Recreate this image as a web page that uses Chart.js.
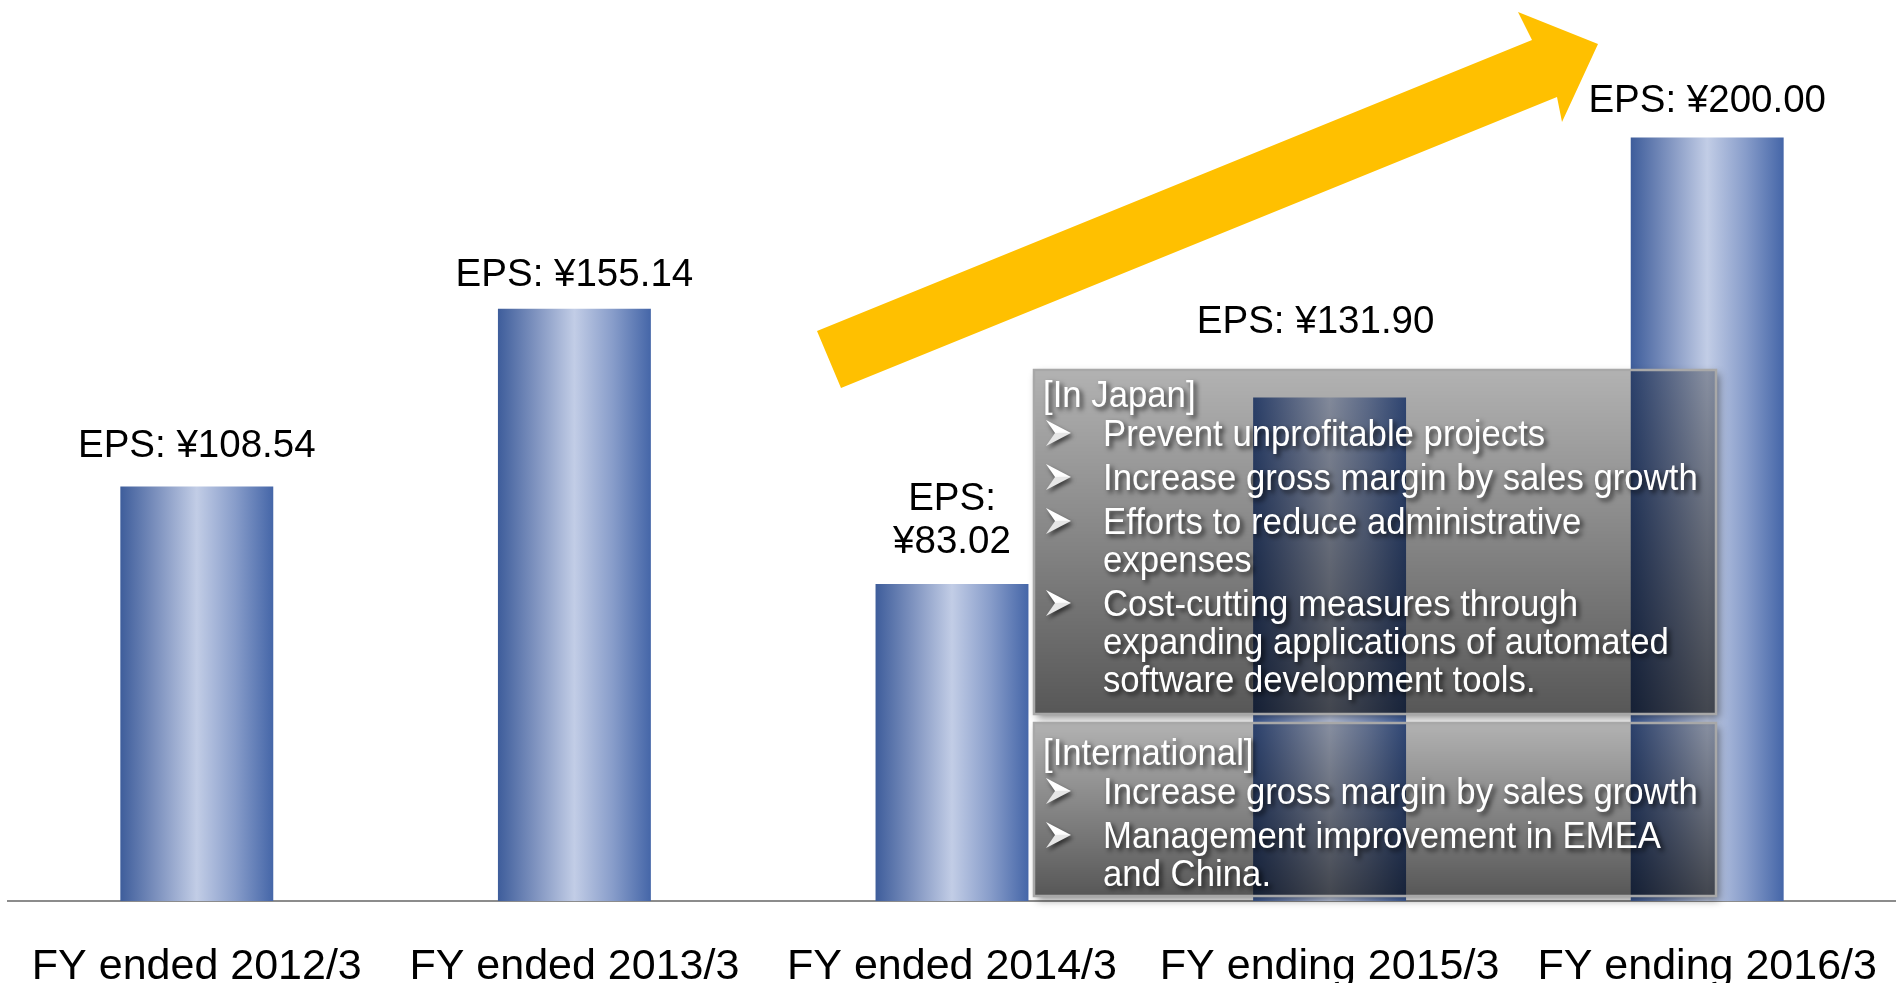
<!DOCTYPE html>
<html>
<head>
<meta charset="utf-8">
<script src="https://cdn.jsdelivr.net/npm/chart.js@4"></script>
<style>
  html, body { margin: 0; padding: 0; background: #fff; overflow: hidden; }
  canvas { display: block; }
</style>
</head>
<body>
<canvas id="epsChart" width="1896" height="983"></canvas>
<script>
const fiscalYears = ["FY ended 2012/3", "FY ended 2013/3", "FY ended 2014/3", "FY ending 2015/3", "FY ending 2016/3"];
const epsValues = [108.54, 155.14, 83.02, 131.90, 200.00];

const japanTitle = "[In Japan]";
const japanPoints = [
  ["Prevent unprofitable projects"],
  ["Increase gross margin by sales growth"],
  ["Efforts to reduce administrative", "expenses"],
  ["Cost-cutting measures through", "expanding applications of automated", "software development tools."]
];
const intlTitle = "[International]";
const intlPoints = [
  ["Increase gross margin by sales growth"],
  ["Management improvement in EMEA", "and China."]
];

const FONT = "'Liberation Sans', Arial, sans-serif";

// how far each EPS label sits above its bar (px), and sideways nudge
const labelLift = [30, 23, 31, 64, 25];
const labelShift = [0, 0, 0, -14, 0];

function barGradient(c) {
  const chart = c.chart;
  const xs = chart.scales.x;
  if (!xs || c.dataIndex === undefined) return "#7389bd";
  const cx = xs.getPixelForValue(c.dataIndex);
  const half = (xs.width / fiscalYears.length) * 0.405 / 2;
  if (!isFinite(cx) || !isFinite(half) || half <= 0) return "#7389bd";
  const g = chart.ctx.createLinearGradient(cx - half, 0, cx + half, 0);
  g.addColorStop(0, "#3e5d9b");
  g.addColorStop(0.25, "#8094c0");
  g.addColorStop(0.5, "#c2cde6");
  g.addColorStop(0.75, "#889dca");
  g.addColorStop(1, "#4566a8");
  return g;
}

function drawArrow(ctx) {
  ctx.save();
  ctx.fillStyle = "#ffc000";
  ctx.beginPath();
  ctx.moveTo(817, 331);
  ctx.lineTo(1532, 40);
  ctx.lineTo(1518, 12);
  ctx.lineTo(1598, 44);
  ctx.lineTo(1562, 122);
  ctx.lineTo(1557, 97);
  ctx.lineTo(841, 388);
  ctx.closePath();
  ctx.fill();
  ctx.restore();
}

function drawBullet(ctx, x, base) {
  ctx.save();
  ctx.shadowColor = "rgba(0,0,0,0.6)";
  ctx.shadowBlur = 4;
  ctx.shadowOffsetX = 2;
  ctx.shadowOffsetY = 3;
  ctx.fillStyle = "#ffffff";
  ctx.beginPath();
  ctx.moveTo(x, base - 26);
  ctx.lineTo(x + 25, base - 13);
  ctx.lineTo(x + 9, base - 13);
  ctx.closePath();
  ctx.fill();
  ctx.fillStyle = "#e6e6e6";
  ctx.beginPath();
  ctx.moveTo(x + 9, base - 13);
  ctx.lineTo(x + 25, base - 13);
  ctx.lineTo(x, base);
  ctx.closePath();
  ctx.fill();
  ctx.restore();
}

function boxText(ctx, text, x, y) {
  ctx.save();
  ctx.translate(x, y);
  ctx.scale(0.965, 1);
  ctx.fillText(text, 0, 0);
  ctx.restore();
}

function drawBox(ctx, x, y, w, h, title, points, titleBase) {
  // drop shadow only outside the box
  ctx.save();
  ctx.beginPath();
  ctx.rect(0, 0, 1896, 983);
  ctx.rect(x, y, w, h);
  ctx.clip("evenodd");
  ctx.shadowColor = "rgba(0,0,0,0.45)";
  ctx.shadowBlur = 8;
  ctx.shadowOffsetX = 3;
  ctx.shadowOffsetY = 4;
  ctx.fillStyle = "#777";
  ctx.fillRect(x, y, w, h);
  ctx.restore();

  ctx.save();
  const g = ctx.createLinearGradient(0, y, 0, y + h);
  g.addColorStop(0, "rgba(0,0,0,0.30)");
  g.addColorStop(1, "rgba(0,0,0,0.66)");
  ctx.fillStyle = g;
  ctx.fillRect(x, y, w, h);
  ctx.strokeStyle = "#a8a8a8";
  ctx.lineWidth = 2.5;
  ctx.strokeRect(x, y, w, h);

  ctx.font = "36px " + FONT;
  ctx.textAlign = "left";
  ctx.textBaseline = "alphabetic";
  ctx.fillStyle = "#ffffff";
  ctx.shadowColor = "rgba(0,0,0,0.7)";
  ctx.shadowBlur = 5;
  ctx.shadowOffsetX = 3;
  ctx.shadowOffsetY = 3;
  boxText(ctx, title, x + 9, titleBase);

  let base = titleBase + 39;
  points.forEach((lines, i) => {
    if (i > 0) base += 44;
    drawBullet(ctx, x + 12, base);
    lines.forEach((line, j) => {
      if (j > 0) base += 38;
      boxText(ctx, line, x + 69, base);
    });
  });
  ctx.restore();
}

function drawLabels(chart) {
  const ctx = chart.ctx;
  const bars = chart.getDatasetMeta(0).data;
  ctx.save();
  ctx.font = "38.5px " + FONT;
  ctx.fillStyle = "#000";
  ctx.textAlign = "center";
  ctx.textBaseline = "alphabetic";
  bars.forEach((bar, i) => {
    const text = "EPS: ¥" + epsValues[i].toFixed(2);
    const x = bar.x + labelShift[i];
    const y = bar.y - labelLift[i];
    if (i === 2) {
      ctx.fillText("EPS:", x, y - 43);
      ctx.fillText("¥" + epsValues[i].toFixed(2), x, y);
    } else {
      ctx.fillText(text, x, y);
    }
  });
  ctx.restore();
}

const overlayPlugin = {
  id: "overlay",
  afterDatasetsDraw(chart) {
    const ctx = chart.ctx;
    drawArrow(ctx);
    drawBox(ctx, 1034, 370, 682, 344, japanTitle, japanPoints, 407);
    drawBox(ctx, 1034, 723, 682, 173, intlTitle, intlPoints, 765);
    drawLabels(chart);
  }
};

new Chart(document.getElementById("epsChart"), {
  type: "bar",
  data: {
    labels: fiscalYears,
    datasets: [{
      data: epsValues,
      backgroundColor: barGradient,
      borderWidth: 0,
      barPercentage: 0.405,
      categoryPercentage: 1
    }]
  },
  options: {
    responsive: false,
    devicePixelRatio: 1,
    animation: false,
    layout: { padding: { left: 8, right: 0, top: 0, bottom: 0 } },
    plugins: { legend: { display: false }, tooltip: { enabled: false } },
    scales: {
      x: {
        grid: { display: false },
        border: { display: true, color: "#8c8c8c", width: 2 },
        ticks: {
          color: "#000",
          font: { family: FONT, size: 43 },
          padding: 32,
          maxRotation: 0,
          autoSkip: false
        },
        afterFit(scale) {
          scale.height = 82;
          scale.paddingLeft = 0;
          scale.paddingRight = 0;
        }
      },
      y: { display: false, min: 0, max: 236 }
    }
  },
  plugins: [overlayPlugin]
});
</script>
</body>
</html>
